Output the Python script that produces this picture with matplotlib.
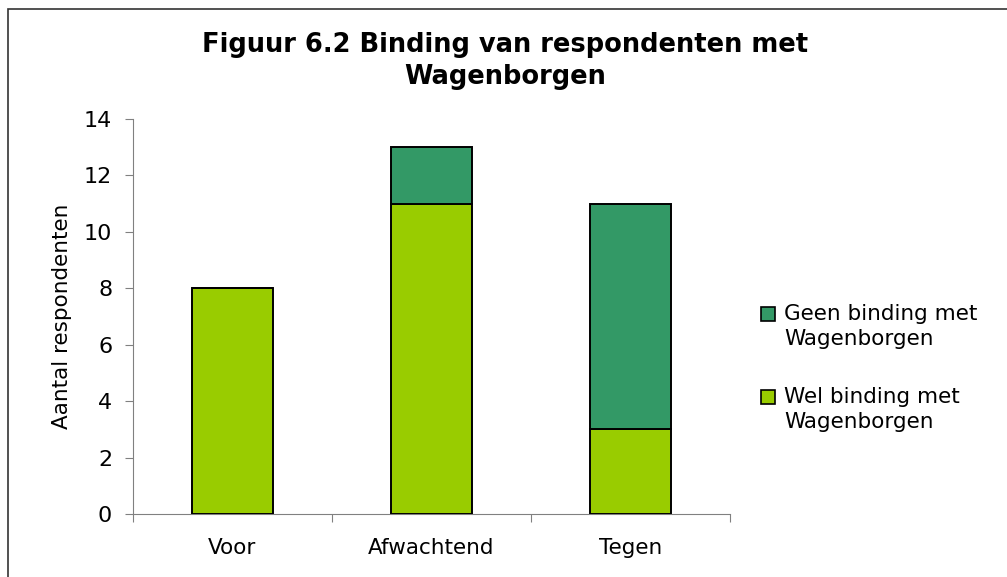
import numpy as np
import matplotlib.pyplot as plt
from matplotlib.patches import Rectangle

# categories and counts
categories = ['Voor', 'Afwachtend', 'Tegen']
wel_binding = [8, 11, 3]
geen_binding = [0, 2, 8]
series_labels = ['Geen binding met\nWagenborgen', 'Wel binding met\nWagenborgen']

light_green = '#99CC00'
dark_green = '#339966'

plt.rcParams['font.family'] = ['DejaVu Sans']
fig = plt.figure(figsize=(10.07, 5.77), dpi=100)

#outer frame, cut off on the right and bottom like the original
fig.patches.append(Rectangle((8 / 1007, -0.1), 1.2, 1 - 9 / 577 + 0.1, transform=fig.transFigure,
                             fill=False, edgecolor='#333333', linewidth=1.2))

ax = fig.add_axes([133 / 1007, 1 - 514 / 577, 597 / 1007, 395 / 577])

x = np.arange(len(categories))
ax.bar(x, wel_binding, width=0.41, color=light_green, edgecolor='black', linewidth=1.4, zorder=3)
ax.bar(x, geen_binding, width=0.41, bottom=wel_binding, color=dark_green, edgecolor='black',
       linewidth=1.4, zorder=3)

ax.set_xlim(-0.5, 2.5)
ax.set_ylim(0, 14)
ax.set_yticks(np.arange(0, 15, 2))
ax.set_xticks([-0.5, 0.5, 1.5, 2.5])
ax.set_xticklabels([])
ax.set_xticks(x, minor=True)
ax.set_xticklabels(categories, minor=True, fontsize=15.5)
ax.tick_params(axis='x', which='minor', length=0, pad=17)
ax.tick_params(axis='x', which='major', length=6, color='#808080', direction='out')
ax.tick_params(axis='y', length=6, color='#808080', direction='out', labelsize=16, pad=9)

for side in ['top', 'right']:
    ax.spines[side].set_visible(False)
ax.spines['left'].set_color('#808080')
ax.spines['bottom'].set_color('#808080')

ax.set_ylabel('Aantal respondenten', fontsize=15.5)
ax.yaxis.set_label_coords(-0.103, 0.5)

fig.text(0.502, 1 - 45 / 577, 'Figuur 6.2 Binding van respondenten met', ha='center', va='center',
         fontsize=18.5, fontweight='bold')
fig.text(0.502, 1 - 77 / 577, 'Wagenborgen', ha='center', va='center',
         fontsize=18.5, fontweight='bold')

#legend drawn by hand so the swatch sits next to the first line of each label
legend_colors = [dark_green, light_green]
legend_top = [314, 397]
for lab, col, yy in zip(series_labels, legend_colors, legend_top):
    fig.patches.append(Rectangle((761 / 1007, 1 - (yy + 7) / 577), 14 / 1007, 14 / 577,
                                 transform=fig.transFigure, facecolor=col, edgecolor='black',
                                 linewidth=1.2))
    fig.text(784 / 1007, 1 - (yy - 10) / 577, lab, ha='left', va='top', fontsize=15.5,
             linespacing=1.3)

fig.savefig('out.png', dpi=100)
